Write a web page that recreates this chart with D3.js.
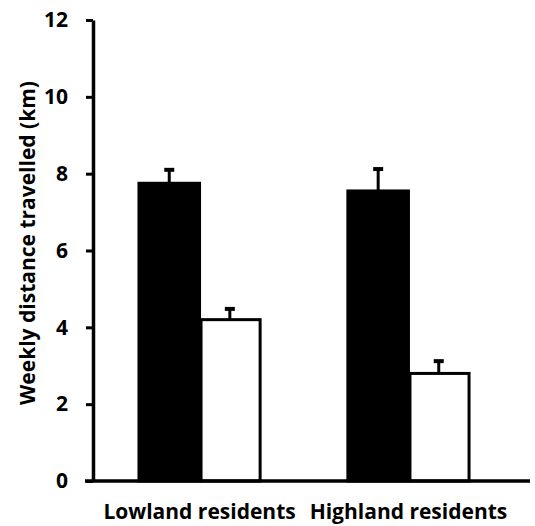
<!DOCTYPE html>
<html>
<head>
<meta charset="utf-8">
<script src="https://cdn.jsdelivr.net/npm/d3@7"></script>
<style>
  body { margin: 0; background: #fff; }
  text { font-family: "Open Sans", Lato, sans-serif; font-weight: bold; fill: #000; }
</style>
</head>
<body>
<svg id="chart" width="535" height="526"></svg>
<script>
// data
var groups = ["Lowland residents", "Highland residents"];
var series = ["black", "white"];
var meanValues = [[7.75, 4.2], [7.55, 2.8]];
var errValues = [[0.35, 0.28], [0.57, 0.32]];
var yTicks = [0, 2, 4, 6, 8, 10, 12];

var svg = d3.select("#chart");
var margin = {top: 20, right: 5, bottom: 45, left: 93};
var width = +svg.attr("width") - margin.left - margin.right;
var height = +svg.attr("height") - margin.top - margin.bottom;

var g = svg.append("g")
    .attr("transform", "translate(" + margin.left + "," + margin.top + ")");

var x0 = d3.scaleBand()
    .domain(groups)
    .range([0, 422])
    .paddingInner(0.42)
    .paddingOuter(0.22);

var x1 = d3.scaleBand()
    .domain(series)
    .range([0, x0.bandwidth()])
    .padding(0);

var y = d3.scaleLinear()
    .domain([0, 12])
    .range([height, 0]);

// bars
var grp = g.selectAll(".grp")
    .data(groups)
    .enter().append("g")
    .attr("class", "grp")
    .attr("transform", function (d) { return "translate(" + x0(d) + ",0)"; });

grp.each(function (d, gi) {
    var sel = d3.select(this);
    series.forEach(function (s, si) {
        var v = meanValues[gi][si];
        var e = errValues[gi][si];
        var cx = x1(s) + x1.bandwidth() / 2;

        // error bar (upper only)
        sel.append("line")
            .attr("x1", cx).attr("x2", cx)
            .attr("y1", y(v)).attr("y2", y(v + e))
            .attr("stroke", "#000").attr("stroke-width", 3);
        sel.append("line")
            .attr("x1", cx - 5).attr("x2", cx + 5)
            .attr("y1", y(v + e)).attr("y2", y(v + e))
            .attr("stroke", "#000").attr("stroke-width", 4);

        sel.append("rect")
            .attr("x", x1(s) + (si === 1 ? 1.5 : 0))
            .attr("width", x1.bandwidth() - (si === 1 ? 1.5 : 0))
            .attr("y", y(v))
            .attr("height", y(0) - y(v))
            .attr("fill", s === "black" ? "#000" : "#fff")
            .attr("stroke", "#000")
            .attr("stroke-width", 3);
    });
});

// y axis
var yAxis = g.append("g")
    .call(d3.axisLeft(y).tickValues(yTicks).tickSize(7).tickPadding(18).tickSizeOuter(0));
yAxis.select(".domain").attr("stroke-width", 3.5);
yAxis.selectAll(".tick line").attr("stroke-width", 3);
yAxis.selectAll(".tick text")
    .attr("font-size", "21px")
    .attr("font-family", "'Open Sans', sans-serif")
    .attr("font-weight", "bold");

// baseline
g.append("line")
    .attr("x1", -8).attr("x2", 437)
    .attr("y1", y(0)).attr("y2", y(0))
    .attr("stroke", "#000").attr("stroke-width", 3.5);

// category labels
g.selectAll(".cat")
    .data(groups)
    .enter().append("text")
    .attr("class", "cat")
    .attr("x", function (d) { return x0(d) + x0.bandwidth() / 2; })
    .attr("y", height + 38)
    .attr("text-anchor", "middle")
    .attr("font-size", "21px")
    .text(function (d) { return d; });

// y label
svg.append("text")
    .attr("transform", "translate(35,243) rotate(-90)")
    .attr("text-anchor", "middle")
    .attr("font-size", "21px")
    .text("Weekly distance travelled (km)");
</script>
</body>
</html>
